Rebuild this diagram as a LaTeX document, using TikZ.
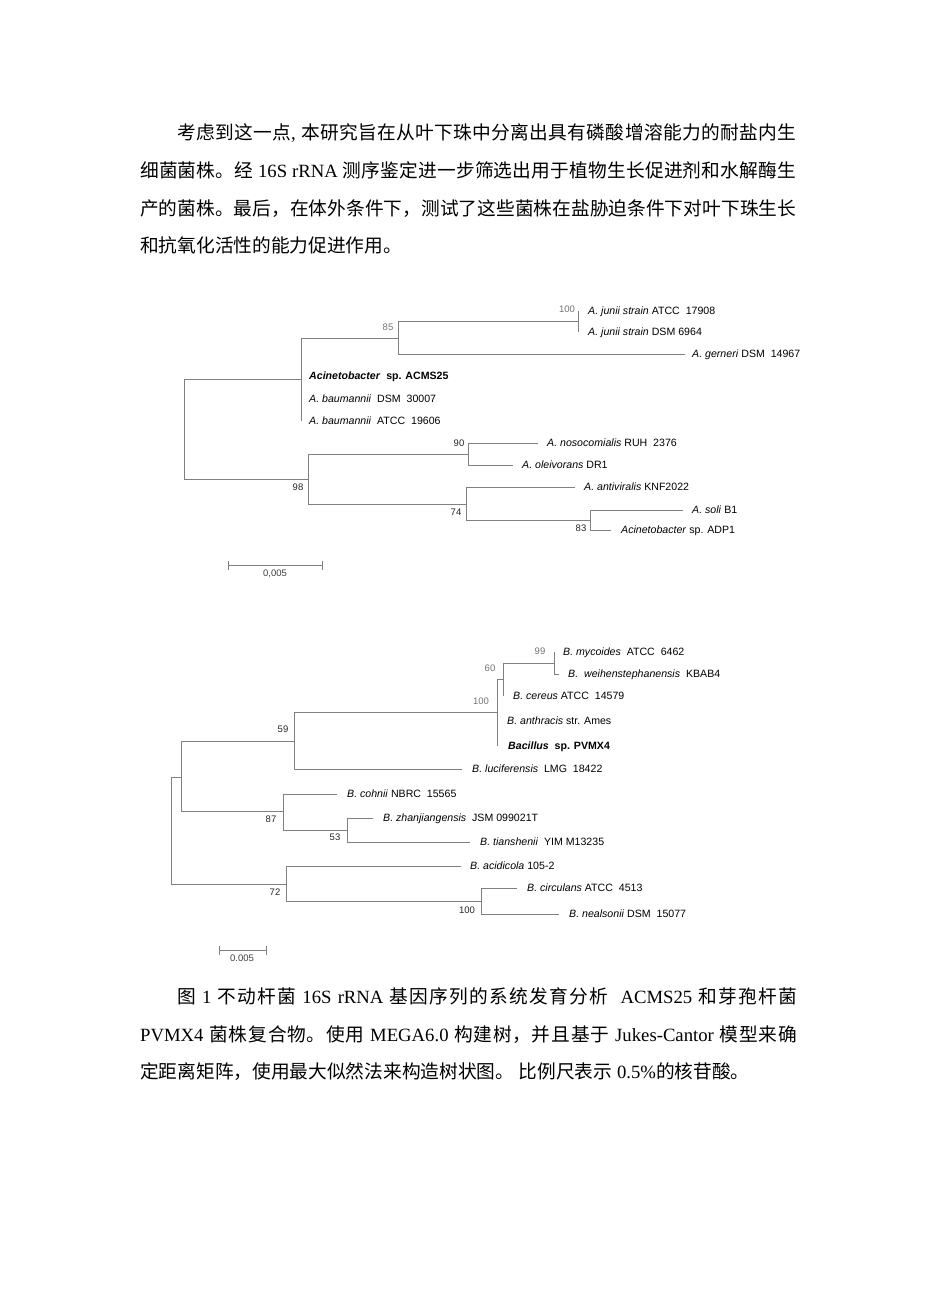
\documentclass[tikz,border=0pt]{standalone}
\usepackage{fontspec}
\setmainfont{Noto Sans CJK SC}
\newfontfamily\tnr{Liberation Serif}
\newfontfamily\arialf{Liberation Sans}
\XeTeXlinebreaklocale "zh"
\XeTeXlinebreakskip=0pt plus 2pt
\newcommand\jl[2]{\parbox[t]{#1}{\tolerance=10000\hbadness=10000\parfillskip=0pt\relax #2}}
\tikzset{
  br/.style={draw=black!50, line width=0.9pt},
  lf/.style={anchor=base west, inner sep=0pt, yshift=-3.8pt, font=\arialf\fontsize{10.6}{12}\selectfont},
  bsg/.style={inner sep=0pt, text=black!55, font=\arialf\fontsize{9.5}{11}\selectfont},
  bsd/.style={inner sep=0pt, text=black!85, font=\arialf\fontsize{9.5}{11}\selectfont},
  para/.style={anchor=base west, inner sep=0pt, font=\fontsize{18.7}{22}\selectfont},
}
\begin{document}
\begin{tikzpicture}[x=1pt,y=-1pt]
\fill[white] (0,0) rectangle (926,1309);
\useasboundingbox (0,0) rectangle (926,1309);

% ---------- paragraph ----------
\node[para] (p1) at (177,139) {\jl{619pt}{考虑到这一点{\tnr, }本研究旨在从叶下珠中分离出具有磷酸增溶能力的耐盐内生}};
\node[para] (p2) at (140,177) {\jl{656pt}{细菌菌株。经{\tnr\ 16S rRNA }测序鉴定进一步筛选出用于植物生长促进剂和水解酶生}};
\node[para] (p3) at (140,215) {\jl{656pt}{产的菌株。最后，在体外条件下，测试了这些菌株在盐胁迫条件下对叶下珠生长}};
\node[para] (p4) at (140,252) {和抗氧化活性的能力促进作用。};

% ---------- top tree ----------
\coordinate (t0) at (184,429.5);
\coordinate (tA) at (301,379.5);
\coordinate (t85) at (398,338);
\coordinate (t100) at (578,321);
\coordinate (tB) at (308,479.5);
\coordinate (t90) at (468,454);
\coordinate (t74) at (466,504);
\coordinate (t83) at (590,520);
\coordinate (lj1) at (578,310.5);
\coordinate (lj2) at (578,331.5);
\coordinate (lge) at (685,354);
\coordinate (lac) at (301,376);
\coordinate (lb1) at (301,399);
\coordinate (lb2) at (301,421);
\coordinate (lno) at (538,443);
\coordinate (lol) at (513,465);
\coordinate (lan) at (575,487);
\coordinate (lso) at (683,510);
\coordinate (lad) at (611,530);

\draw[br] (t0) |- (tA);
\draw[br] (t0) |- (tB);
\draw[br] (tA) |- (t85);
\draw[br] (tA) |- (lb2);
\draw[br] (t85) |- (t100);
\draw[br] (t85) |- (lge);
\draw[br] (t100) |- (lj1);
\draw[br] (t100) |- (lj2);
\draw[br] (tB) |- (t90);
\draw[br] (tB) |- (t74);
\draw[br] (t90) |- (lno);
\draw[br] (t90) |- (lol);
\draw[br] (t74) |- (lan);
\draw[br] (t74) |- (t83);
\draw[br] (t83) |- (lso);
\draw[br] (t83) |- (lad);

\node[lf, xshift=10pt] (nj1) at (lj1) {\textit{A. junii strain} ATCC\ \ 17908};
\node[lf, xshift=10pt] (nj2) at (lj2) {\textit{A. junii strain} DSM 6964};
\node[lf, xshift=7pt] (nge) at (lge) {\textit{A. gerneri} DSM\ \ 14967};
\node[lf, xshift=8pt] (nac) at (lac) {\bfseries\textit{Acinetobacter}\ \ sp. ACMS25};
\node[lf, xshift=8pt] (nb1) at (lb1) {\textit{A. baumannii}\ \ DSM\ \ 30007};
\node[lf, xshift=8pt] (nb2) at (lb2) {\textit{A. baumannii}\ \ ATCC\ \ 19606};
\node[lf, xshift=9pt] (nno) at (lno) {\textit{A. nosocomialis} RUH\ \ 2376};
\node[lf, xshift=9pt] (nol) at (lol) {\textit{A. oleivorans} DR1};
\node[lf, xshift=9pt] (nan) at (lan) {\textit{A. antiviralis} KNF2022};
\node[lf, xshift=9pt] (nso) at (lso) {\textit{A. soli} B1};
\node[lf, xshift=10pt] (nad) at (lad) {\textit{Acinetobacter} sp. ADP1};

\node[bsg] (bs100) at (567,309) {100};
\node[bsg] (bs85) at (388,327) {85};
\node[bsd] (bs90) at (459,443) {90};
\node[bsd] (bs98) at (298,487) {98};
\node[bsd] (bs74) at (456,512) {74};
\node[bsd] (bs83) at (581,528) {83};

\coordinate (s1a) at (228,565);
\coordinate (s1b) at (322,565);
\draw[br] (s1a) -- (s1b);
\draw[br] ([yshift=4.5pt]s1a) -- ([yshift=-4.5pt]s1a);
\draw[br] ([yshift=4.5pt]s1b) -- ([yshift=-4.5pt]s1b);
\node[bsd, text=black!75] (sl1) at (275,574) {0,005};

% ---------- bottom tree ----------
\coordinate (b0) at (171,830.5);
\coordinate (bT) at (181,777);
\coordinate (b59) at (294,741.5);
\coordinate (b100) at (497,712.5);
\coordinate (b60) at (503,679);
\coordinate (b99) at (554,663);
\coordinate (b87) at (283,811.5);
\coordinate (b53) at (347,830);
\coordinate (b72) at (286,884);
\coordinate (b100c) at (481,901);
\coordinate (lmy) at (554,652);
\coordinate (lwe) at (559,674);
\coordinate (lce) at (503,696);
\coordinate (lant) at (497,721);
\coordinate (lpv) at (497,746);
\coordinate (llu) at (462,769);
\coordinate (lco) at (337,794);
\coordinate (lzh) at (373,818);
\coordinate (lti) at (470,842);
\coordinate (lacd) at (461,866);
\coordinate (lci) at (517,888);
\coordinate (lne) at (559,914);

\draw[br] (b0) |- (bT);
\draw[br] (b0) |- (b72);
\draw[br] (bT) |- (b59);
\draw[br] (bT) |- (b87);
\draw[br] (b59) |- (b100);
\draw[br] (b59) |- (llu);
\draw[br] (b100) |- (b60);
\draw[br] (b100) |- (lpv);
\draw[br] (b60) |- (b99);
\draw[br] (b60) |- (lce);
\draw[br] (b99) |- (lmy);
\draw[br] (b99) |- (lwe);
\draw[br] (b87) |- (lco);
\draw[br] (b87) |- (b53);
\draw[br] (b53) |- (lzh);
\draw[br] (b53) |- (lti);
\draw[br] (b72) |- (lacd);
\draw[br] (b72) |- (b100c);
\draw[br] (b100c) |- (lci);
\draw[br] (b100c) |- (lne);

\node[lf, xshift=9pt] (nmy) at (lmy) {\textit{B. mycoides}\ \ ATCC\ \ 6462};
\node[lf, xshift=9pt] (nwe) at (lwe) {\textit{B.\ \ weihenstephanensis}\ \ KBAB4};
\node[lf, xshift=10pt] (nce) at (lce) {\textit{B. cereus} ATCC\ \ 14579};
\node[lf, xshift=10pt] (nant) at (lant) {\textit{B. anthracis} str. Ames};
\node[lf, xshift=11pt] (npv) at (lpv) {\bfseries\textit{Bacillus}\ \ sp. PVMX4};
\node[lf, xshift=10pt] (nlu) at (llu) {\textit{B. luciferensis}\ \ LMG\ \ 18422};
\node[lf, xshift=10pt] (nco) at (lco) {\textit{B. cohnii} NBRC\ \ 15565};
\node[lf, xshift=10pt] (nzh) at (lzh) {\textit{B. zhanjiangensis}\ \ JSM 099021T};
\node[lf, xshift=10pt] (nti) at (lti) {\textit{B. tianshenii}\ \ YIM M13235};
\node[lf, xshift=9pt] (nacd) at (lacd) {\textit{B. acidicola} 105-2};
\node[lf, xshift=10pt] (nci) at (lci) {\textit{B. circulans} ATCC\ \ 4513};
\node[lf, xshift=10pt] (nne) at (lne) {\textit{B. nealsonii} DSM\ \ 15077};

\node[bsg] (bs99) at (540,651) {99};
\node[bsg] (bs60) at (490,668) {60};
\node[bsg] (bs100b) at (481,701) {100};
\node[bsd] (bs59) at (283,729) {59};
\node[bsd] (bs87) at (271,819) {87};
\node[bsd] (bs53) at (335,837) {53};
\node[bsd] (bs72) at (275,892) {72};
\node[bsd] (bs100c) at (467,910) {100};

\coordinate (s2a) at (219,950);
\coordinate (s2b) at (266,950);
\draw[br] (s2a) -- (s2b);
\draw[br] ([yshift=4.5pt]s2a) -- ([yshift=-4.5pt]s2a);
\draw[br] ([yshift=4.5pt]s2b) -- ([yshift=-4.5pt]s2b);
\node[bsd, text=black!75] (sl2) at (242,958) {0.005};

% ---------- caption ----------
\node[para] (c1) at (177,1003) {\jl{620pt}{图{\tnr\ 1 }不动杆菌{\tnr\ 16S rRNA }基因序列的系统发育分析{\tnr\ \ ACMS25 }和芽孢杆菌}};
\node[para] (c2) at (140,1041) {\jl{657pt}{{\tnr PVMX4 }菌株复合物。使用{\tnr\ MEGA6.0 }构建树，并且基于{\tnr\ Jukes-Cantor }模型来确}};
\node[para] (c3) at (140,1078) {定距离矩阵，使用最大似然法来构造树状图。{\tnr\ }比例尺表示{\tnr\ 0.5\%}的核苷酸。};
\end{tikzpicture}
\end{document}
